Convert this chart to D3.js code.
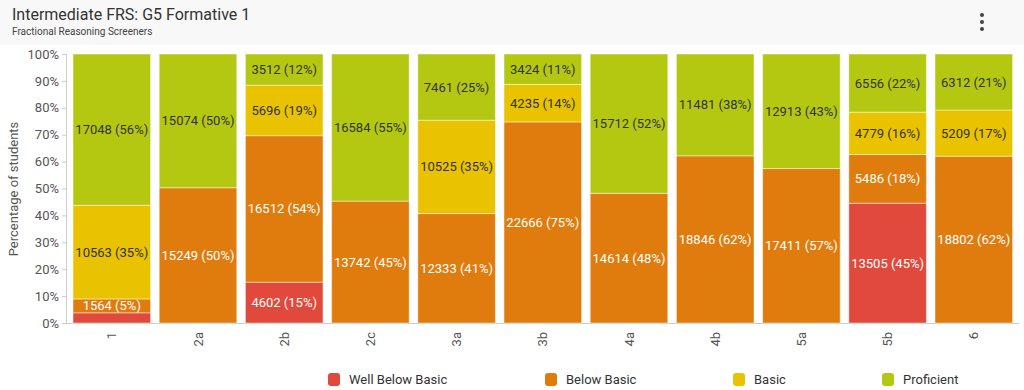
<!DOCTYPE html>
<html>
<head>
  <meta charset="utf-8">
  <script src="https://d3js.org/d3.v7.min.js"></script>
  <style>
    body { margin: 0; background: #fff; font-family: Roboto, "Noto Sans", sans-serif; }
    .axis text { font-family: Roboto, sans-serif; font-size: 13px; fill: #555; }
    .axis path, .axis line { stroke: #ccc; }
  </style>
</head>
<body>
<script>
  // data
  var categories = ["1", "2a", "2b", "2c", "3a", "3b", "4a", "4b", "5a", "5b", "6"];
  var series = ["Well Below Basic", "Below Basic", "Basic", "Proficient"];
  var wellBelowBasic = [1148, 0, 4602, 0, 0, 0, 0, 0, 0, 13505, 0];
  var belowBasic = [1564, 15249, 16512, 13742, 12333, 22666, 14614, 18846, 17411, 5486, 18802];
  var basic = [10563, 0, 5696, 0, 10525, 4235, 0, 0, 0, 4779, 5209];
  var proficient = [17048, 15074, 3512, 16584, 7461, 3424, 15712, 11481, 12913, 6556, 6312];
  var yTicks = [0, 0.1, 0.2, 0.3, 0.4, 0.5, 0.6, 0.7, 0.8, 0.9, 1];
  var colors = ["#e0493b", "#e07c0e", "#e9c200", "#b5c811"];
  var labelColors = ["#fff", "#fff", "#333", "#333"];

  var W = 1024, H = 390;
  var svg = d3.select("body").append("svg").attr("width", W).attr("height", H);

  // header band
  svg.append("rect").attr("width", W).attr("height", 45).attr("fill", "#f8f8f8");
  svg.append("text").attr("x", 12).attr("y", 20)
    .style("font-size", "16px").style("fill", "#333")
    .text("Intermediate FRS: G5 Formative 1");
  svg.append("text").attr("x", 12).attr("y", 35)
    .style("font-size", "10px").style("fill", "#444")
    .text("Fractional Reasoning Screeners");
  [15, 22, 29].forEach(function (cy) {
    svg.append("circle").attr("cx", 982).attr("cy", cy).attr("r", 2).attr("fill", "#444");
  });

  var x = d3.scaleBand().domain(categories).range([68.7, 1016.9])
    .paddingInner(0.1).paddingOuter(0.05);
  var y = d3.scaleLinear().domain([0, 1]).range([323, 54]);

  var rows = categories.map(function (c, i) {
    return { cat: c, values: [wellBelowBasic[i], belowBasic[i], basic[i], proficient[i]] };
  });
  rows.forEach(function (r) {
    r.total = d3.sum(r.values);
    var acc = 0;
    r.segs = r.values.map(function (v, k) {
      var s = { k: k, v: v, y0: acc / r.total, y1: (acc + v) / r.total, cat: r.cat, total: r.total };
      acc += v;
      return s;
    });
  });

  // y axis
  var yAxis = svg.append("g").attr("class", "axis").attr("transform", "translate(66,0)")
    .call(d3.axisLeft(y).tickValues(yTicks).tickFormat(d3.format(".0%")).tickSize(4).tickPadding(3));
  svg.append("text")
    .attr("transform", "translate(18,189) rotate(-90)")
    .attr("text-anchor", "middle")
    .style("font-size", "13px").style("fill", "#555")
    .text("Percentage of students");

  // x axis
  var xAxis = svg.append("g").attr("class", "axis").attr("transform", "translate(0,323)")
    .call(d3.axisBottom(x).tickSize(0).tickPadding(0));
  xAxis.select("path").attr("d", "M66,0.5H1019");
  xAxis.selectAll("text")
    .attr("transform", "rotate(-90)")
    .attr("x", -9).attr("y", 0).attr("dy", "0.35em")
    .style("text-anchor", "end");

  // bars
  var bars = svg.append("g").selectAll("g").data(rows).enter().append("g");
  bars.selectAll("rect").data(function (d) { return d.segs.filter(function (s) { return s.v > 0; }); })
    .enter().append("rect")
    .attr("x", function (d) { return x(d.cat); })
    .attr("width", x.bandwidth())
    .attr("y", function (d) { return y(d.y1); })
    .attr("height", function (d) { return y(d.y0) - y(d.y1); })
    .attr("fill", function (d) { return colors[d.k]; })
    .attr("stroke", "rgba(255,255,255,0.45)")
    .attr("stroke-width", 1);

  bars.selectAll("text").data(function (d) {
      return d.segs.filter(function (s) { return s.v > 0 && y(s.y0) - y(s.y1) > 12; });
    })
    .enter().append("text")
    .attr("x", function (d) { return x(d.cat) + x.bandwidth() / 2; })
    .attr("y", function (d) { return (y(d.y0) + y(d.y1)) / 2; })
    .attr("dy", "0.35em")
    .attr("text-anchor", "middle")
    .style("font-size", "13px")
    .style("fill", function (d) { return labelColors[d.k]; })
    .text(function (d) { return d.v + " (" + Math.round(d.v / d.total * 100) + "%)"; });

  // legend
  var legendX = [328, 545, 733, 882];
  var lg = svg.append("g").selectAll("g").data(series).enter().append("g")
    .attr("transform", function (d, i) { return "translate(" + legendX[i] + ",373)"; });
  lg.append("rect").attr("width", 12).attr("height", 13).attr("rx", 3)
    .attr("fill", function (d, i) { return colors[i]; });
  lg.append("text").attr("x", 21).attr("y", 6.5).attr("dy", "0.35em")
    .style("font-size", "13px").style("fill", "#333")
    .text(function (d) { return d; });
</script>
</body>
</html>
